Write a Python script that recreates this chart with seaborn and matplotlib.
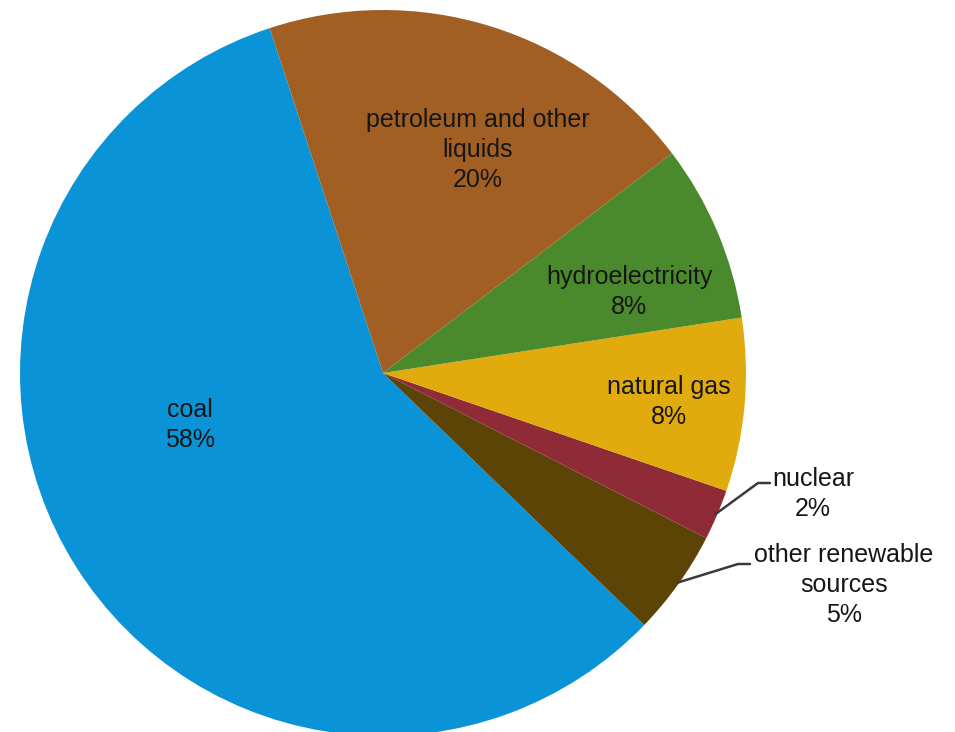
import matplotlib
matplotlib.use("Agg")
import matplotlib.pyplot as plt
import seaborn as sns
import numpy as np

sns.set_theme(style="white")
plt.rcParams['font.family'] = ['Liberation Sans', 'DejaVu Sans']

# data (order counter-clockwise from coal)
categories = ["coal", "other renewable\nsources", "nuclear", "natural gas",
              "hydroelectricity", "petroleum and other\nliquids"]
values = [57.7, 4.7, 2.25, 7.7, 7.9, 19.7]
pct_labels = ["58%", "5%", "2%", "8%", "8%", "20%"]
colors = ["#0a93d7", "#5c4407", "#8e2b36", "#e1aa0d", "#4b8a2c", "#a25f23"]

W, H = 955, 732
fig = plt.figure(figsize=(W / 100, H / 100), dpi=100)
ax = fig.add_axes([0, 0, 1, 1])

cx, cy, R = 383, H - 373, 363
wedges, _ = ax.pie(values, colors=colors, startangle=108.2, counterclock=True,
                   center=(cx, cy), radius=R, frame=True,
                   wedgeprops=dict(linewidth=0))
ax.set_xlim(0, W)
ax.set_ylim(0, H)
ax.set_aspect("equal")
ax.axis("off")

inside_pos = {
    0: (190, 425),
    3: (669, 402),
    4: (629, 292),
    5: (478, 150),
}
fs = 18
tc = "#161616"
ls = 1.33
for i, (x, y) in inside_pos.items():
    ax.text(x, H - y, f"{categories[i]}\n{pct_labels[i]}", ha="center", va="center",
            fontsize=fs, color=tc, linespacing=ls)

def mid_point(i, frac=0.995):
    w = wedges[i]
    a = np.deg2rad((w.theta1 + w.theta2) / 2)
    return cx + R * frac * np.cos(a), cy + R * frac * np.sin(a)

# nuclear
x0, y0 = mid_point(2)
ax.plot([x0, 758, 770], [y0, H - 483, H - 483], color="#3a3a3a", lw=1.8)
ax.text(813, H - 494, f"{categories[2]}\n{pct_labels[2]}", ha="center", va="center",
        fontsize=fs, color=tc, linespacing=ls)

# other renewable
x0, y0 = mid_point(1)
ax.plot([x0, 738, 750], [y0, H - 564, H - 564], color="#3a3a3a", lw=1.8)
ax.text(844, H - 585, f"{categories[1]}\n{pct_labels[1]}", ha="center", va="center",
        fontsize=fs, color=tc, linespacing=ls)

fig.savefig("out.png", dpi=100, facecolor="white")
